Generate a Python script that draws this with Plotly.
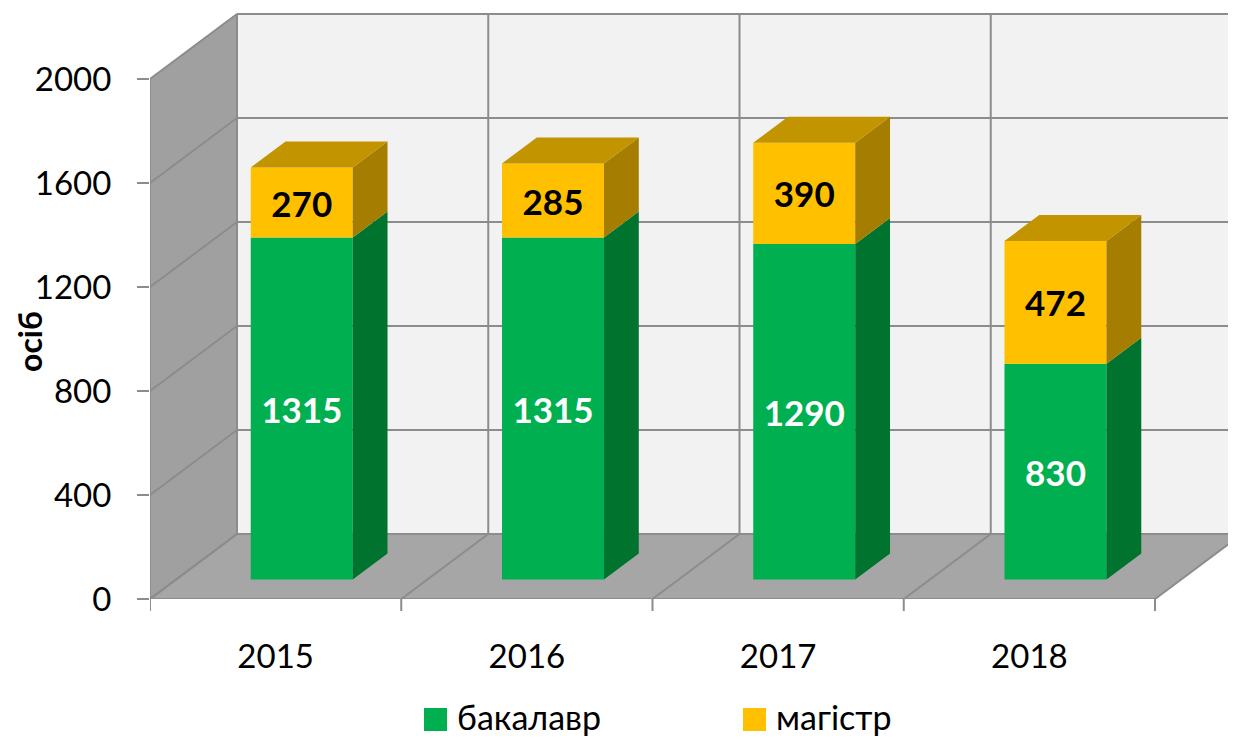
import plotly.graph_objects as go

years = ["2015", "2016", "2017", "2018"]
bachelor = [1315, 1315, 1290, 830]
master = [270, 285, 390, 472]
y_ticks = [0, 400, 800, 1200, 1600, 2000]
series_names = ["бакалавр", "магістр"]

# canvas / oblique projection settings (page body has an 8px margin)
OFF = 8
W, H = 1236 - OFF, 738 - OFF
M_L = 150 - OFF
M_B = H - (599 - OFF)
PX_X = 251.25           # px per category
PX_V = 0.26             # px per value unit
DX = 87 / PX_X          # full depth shift, category units
DY = 65 / PX_V          # full depth shift, value units
BAR_D0 = 0.3            # depth of the bar front face
BAR_DEPTH = 0.4
BAR_W = 102 / PX_X

GREEN, GREEN_SIDE = "#00B050", "#00732F"
GOLD, GOLD_TOP, GOLD_SIDE = "#FFC000", "#C29400", "#A57D00"
WALL, SIDE_WALL, FLOOR = "#F2F2F2", "#A0A0A0", "#A6A6A6"
GRID = "#8C8C8C"
FONT = "Lato"

plot_w = W - M_L
plot_h = H - M_B
x_lo, x_hi = -0.5, -0.5 + plot_w / PX_X
v_top = plot_h / PX_V
n = len(years)
bounds = [i - 0.5 for i in range(n + 1)]
vmax = y_ticks[-1]


def paper(px, py):
    # screen pixel -> paper coords
    fx, fy = px - OFF, py - OFF
    return (fx - M_L) / plot_w, (plot_h - fy) / plot_h


def line(x0, y0, x1, y1, **kw):
    return dict(type="line", xref="x", yref="y", x0=x0, y0=y0, x1=x1, y1=y1,
                line=dict(color=GRID, width=2), layer="below", **kw)


shapes = []
# back wall, side wall, floor
shapes.append(dict(type="rect", xref="x", yref="y", x0=bounds[0] + DX, x1=bounds[-1] + DX,
                   y0=DY, y1=vmax + DY, fillcolor=WALL, line_width=0, layer="below"))
shapes.append(dict(type="path", xref="x", yref="y",
                   path=f"M{bounds[0]},0 L{bounds[0] + DX},{DY} L{bounds[0] + DX},{vmax + DY} "
                        f"L{bounds[0]},{vmax} Z",
                   fillcolor=SIDE_WALL, line_width=0, layer="below"))
shapes.append(dict(type="path", xref="x", yref="y",
                   path=f"M{bounds[0]},0 L{bounds[-1]},0 L{bounds[-1] + DX},{DY} L{bounds[0] + DX},{DY} Z",
                   fillcolor=FLOOR, line_width=0, layer="below"))
# grid on walls
for v in y_ticks:
    shapes.append(line(bounds[0] + DX, v + DY, bounds[-1] + DX, v + DY))
    shapes.append(line(bounds[0], v, bounds[0] + DX, v + DY))
for b in bounds:
    shapes.append(line(b + DX, DY, b + DX, vmax + DY))
    shapes.append(line(b, 0, b + DX, DY))
# front axis lines
shapes.append(line(bounds[0], 0, bounds[0], vmax))
shapes.append(line(bounds[0], 0, bounds[-1], 0))
# category boundary ticks below the floor
for b in bounds:
    shapes.append(dict(type="line", xref="x", yref="paper", x0=b, x1=b, y0=0, y1=-12 / plot_h,
                       line=dict(color=GRID, width=2)))

fig = go.Figure()

x_front = [i + BAR_D0 * DX for i in range(n)]
base0 = BAR_D0 * DY
segments = [
    (bachelor, [base0] * n, GREEN, GREEN_SIDE, "white"),
    (master, [base0 + b for b in bachelor], GOLD, GOLD_SIDE, "black"),
]

# side and top faces
for vals, bases, front, side, _ in segments:
    xs, ys = [], []
    for xf, lo, v in zip(x_front, bases, vals):
        xr = xf + BAR_W / 2
        hi = lo + v
        xs += [xr, xr + BAR_DEPTH * DX, xr + BAR_DEPTH * DX, xr, None]
        ys += [lo, lo + BAR_DEPTH * DY, hi + BAR_DEPTH * DY, hi, None]
    fig.add_trace(go.Scatter(x=xs, y=ys, fill="toself", fillcolor=side, mode="lines",
                             line=dict(width=0, color=side), hoverinfo="skip", showlegend=False))

tx, ty = [], []
for xf, g, m in zip(x_front, bachelor, master):
    top = base0 + g + m
    xl, xr = xf - BAR_W / 2, xf + BAR_W / 2
    tx += [xl, xr, xr + BAR_DEPTH * DX, xl + BAR_DEPTH * DX, None]
    ty += [top, top, top + BAR_DEPTH * DY, top + BAR_DEPTH * DY, None]
fig.add_trace(go.Scatter(x=tx, y=ty, fill="toself", fillcolor=GOLD_TOP, mode="lines",
                         line=dict(width=0, color=GOLD_TOP), hoverinfo="skip", showlegend=False))

# front faces
for (vals, bases, front, side, tcolor), name in zip(segments, series_names):
    fig.add_trace(go.Bar(
        x=x_front, y=vals, base=bases, width=BAR_W, name=name,
        marker=dict(color=front, line_width=0),
        texttemplate="<b>%{y}</b>", textposition="inside", insidetextanchor="middle",
        textangle=0, textfont=dict(family=FONT, size=35, color=tcolor),
        showlegend=False,
    ))

# y title
ax, ay = paper(29, 341)
annotations = [dict(text="<b>осіб</b>", xref="paper", yref="paper", x=ax, y=ay, textangle=-90,
                    showarrow=False, font=dict(family=FONT, size=32, color="black"),
                    xanchor="center", yanchor="middle")]

# legend drawn by hand (big square markers)
legend_items = [(424, series_names[0], GREEN), (743, series_names[1], GOLD)]
for px, label, color in legend_items:
    x0, y0 = paper(px, 731)
    x1, y1 = paper(px + 23, 708)
    shapes.append(dict(type="rect", xref="paper", yref="paper", x0=x0, x1=x1, y0=y0, y1=y1,
                       fillcolor=color, line_width=0))
    lx, ly = paper(px + 31, 716)
    annotations.append(dict(text=label, xref="paper", yref="paper", x=lx, y=ly, showarrow=False,
                            xanchor="left", yanchor="middle",
                            font=dict(family=FONT, size=34, color="black")))

fig.update_layout(
    width=W, height=H,
    margin=dict(l=M_L, r=0, t=0, b=M_B, autoexpand=False),
    paper_bgcolor="white", plot_bgcolor="white",
    barmode="overlay",
    shapes=shapes, annotations=annotations,
    showlegend=False,
    xaxis=dict(range=[x_lo, x_hi], tickvals=list(range(n)), ticktext=years, ticks="",
               showgrid=False, zeroline=False, showline=False, ticklabelstandoff=35,
               tickfont=dict(family=FONT, size=33, color="black")),
    yaxis=dict(range=[0, v_top], tickvals=y_ticks, ticks="outside", ticklen=12, tickwidth=2,
               tickcolor=GRID, showgrid=False, zeroline=False, showline=False,
               ticklabelstandoff=19, tickfont=dict(family=FONT, size=33, color="black")),
)

fig.write_html("out.html")
